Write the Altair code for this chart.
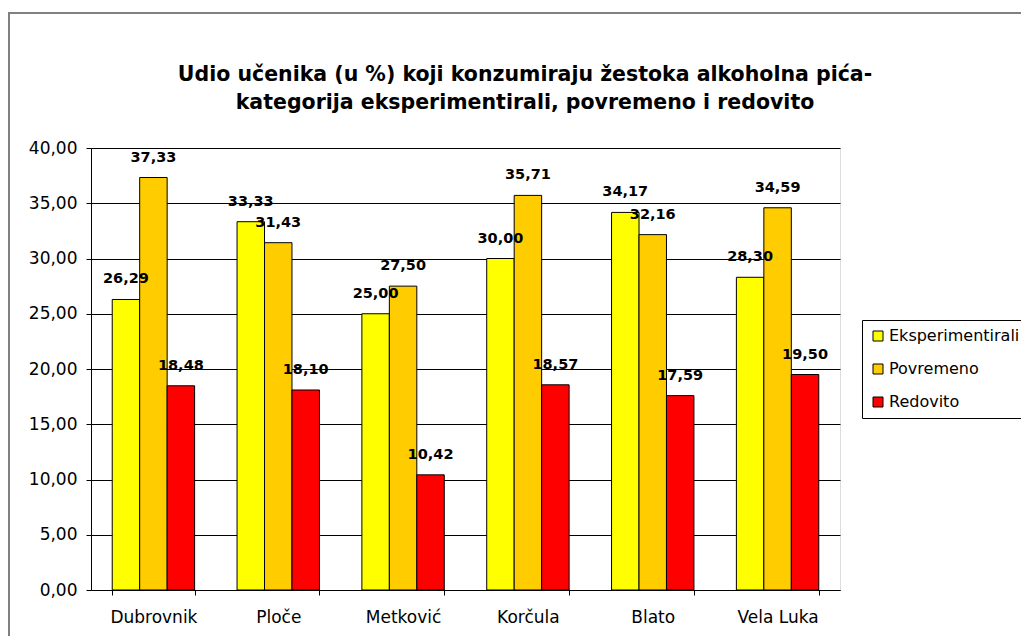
import altair as alt
import pandas as pd

gradovi = ["Dubrovnik", "Ploče", "Metković", "Korčula", "Blato", "Vela Luka"]
kategorije = ["Eksperimentirali", "Povremeno", "Redovito"]
eksperimentirali = [26.29, 33.33, 25.00, 30.00, 34.17, 28.30]
povremeno = [37.33, 31.43, 27.50, 35.71, 32.16, 34.59]
redovito = [18.48, 18.10, 10.42, 18.57, 17.59, 19.50]
boje = ["#FFFF00", "#FFCC00", "#FF0000"]
y_ticks = [0, 5, 10, 15, 20, 25, 30, 35, 40]
naslov = ["Udio učenika (u %) koji konzumiraju žestoka alkoholna pića-",
          "kategorija eksperimentirali, povremeno i redovito"]

rows = []
for kat, vals in zip(kategorije, [eksperimentirali, povremeno, redovito]):
    for g, v in zip(gradovi, vals):
        rows.append({"Grad": g, "Kategorija": kat, "Vrijednost": v})
df = pd.DataFrame(rows)

FONT = "DejaVu Sans"

base = alt.Chart(df).transform_calculate(
    lbl="replace(format(datum.Vrijednost, '.2f'), '.', ',')"
).encode(
    x=alt.X("Grad:N", sort=gradovi, title=None,
            scale=alt.Scale(paddingInner=0.34, paddingOuter=0.17),
            axis=alt.Axis(labelAngle=0, tickBand="extent", tickSize=5,
                          labelPadding=14, labelFontSize=17, labelFont=FONT,
                          labelColor="#000", domainColor="#000", tickColor="#000")),
    xOffset=alt.XOffset("Kategorija:N", sort=kategorije),
    y=alt.Y("Vrijednost:Q", title=None,
            scale=alt.Scale(domain=[0, 40]),
            axis=alt.Axis(values=y_ticks, tickSize=5, labelPadding=9,
                          labelFontSize=17, labelFont=FONT, labelColor="#000",
                          labelExpr="replace(format(datum.value, '.2f'), '.', ',')",
                          grid=True, gridColor="#000", gridWidth=1,
                          domainColor="#000", tickColor="#000")),
)

bars = base.mark_bar(stroke="#000", strokeWidth=1).encode(
    color=alt.Color("Kategorija:N", sort=kategorije,
                    scale=alt.Scale(domain=kategorije, range=boje),
                    legend=alt.Legend(title=None, orient="none",
                                      legendX=771, legendY=172,
                                      symbolType="square", symbolSize=100,
                                      symbolStrokeColor="#000", symbolStrokeWidth=1,
                                      labelFontSize=16, labelFont=FONT,
                                      labelColor="#000", rowPadding=17,
                                      padding=8, strokeColor="#000",
                                      fillColor="#FFFFFF", labelOffset=3))
)

labels = base.mark_text(baseline="bottom", dy=-13, fontSize=14.5,
                        fontWeight="bold", font=FONT, color="#000").encode(
    text="lbl:N"
)

frame = alt.Chart(alt.Data(values=[{}])).mark_rect(
    fill=None, stroke="#808080", strokeWidth=2
).encode(
    x=alt.value(-82), x2=alt.value(960),
    y=alt.value(-135), y2=alt.value(520)
)

title1 = alt.Chart(alt.Data(values=[{}])).mark_text(
    text=naslov[0], fontSize=20.5, fontWeight="bold", font=FONT, color="#000",
    align="center", baseline="middle"
).encode(x=alt.value(434), y=alt.value(-73))

title2 = alt.Chart(alt.Data(values=[{}])).mark_text(
    text=naslov[1], fontSize=20.5, fontWeight="bold", font=FONT, color="#000",
    align="center", baseline="middle"
).encode(x=alt.value(434), y=alt.value(-45))

chart = alt.layer(bars, labels, frame, title1, title2).properties(
    width=749, height=442,
    autosize=alt.AutoSizeParams(type="none"),
    padding={"left": 83, "top": 140, "right": 181, "bottom": 46},
).configure_view(
    fill="#FFFFCC", stroke="#808080", strokeWidth=1
).configure(background="#FFFFFF")

chart.save("out.html", embed_options={"renderer": "svg", "actions": False})
